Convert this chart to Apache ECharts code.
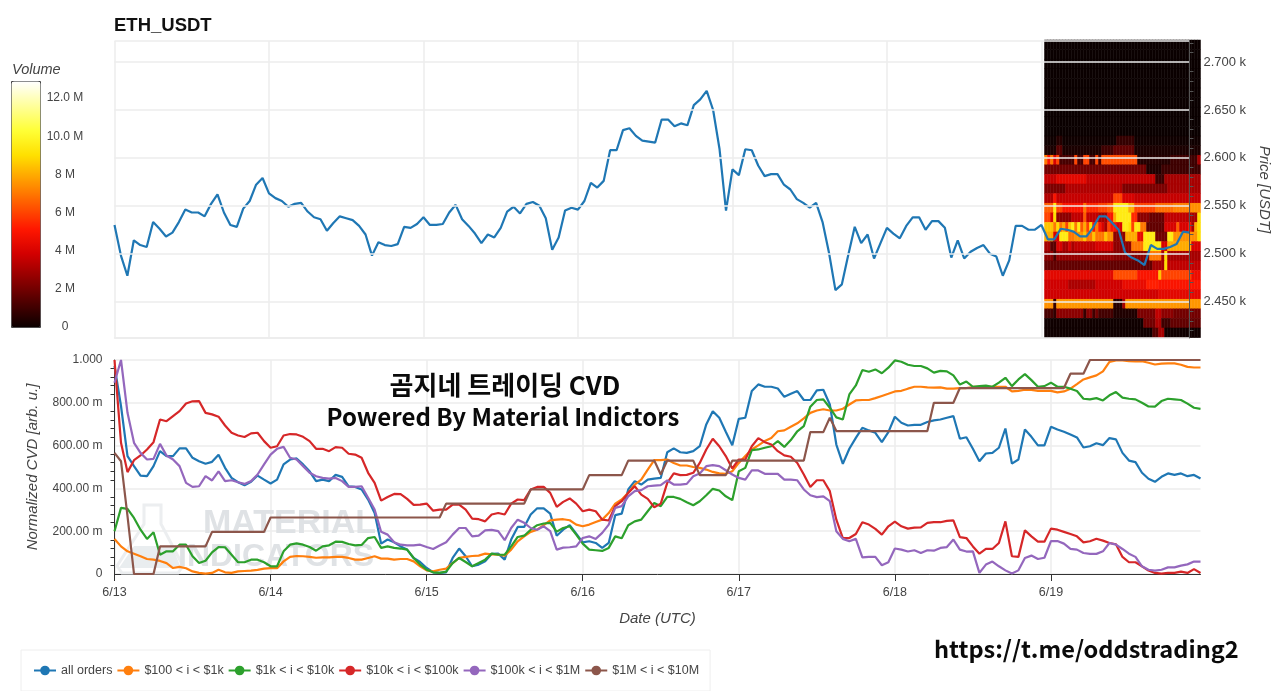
<!DOCTYPE html>
<html><head><meta charset="utf-8">
<style>html,body{margin:0;padding:0;background:#fff}#c{width:1280px;height:691px}</style>
<script src="https://cdn.jsdelivr.net/npm/echarts@6/dist/echarts.min.js"></script>
</head><body><div id="c"></div>
<script>
const dateTicks = ['6/13','6/14','6/15','6/16','6/17','6/18','6/19'];
const seriesNames = ['all orders','$100 < i < $1k','$1k < i < $10k','$10k < i < $100k','$100k < i < $1M','$1M < i < $10M'];
const volumeTicks = {0:'0',2:'2 M',4:'4 M',6:'6 M',8:'8 M',10:'10.0 M',12:'12.0 M'};

// hourly price [USDT]
const price = [2530,2498,2477,2514,2509,2507,2533,2526,2518,2522,2533,2546,2543,2543,2539,2552,2562,2543,2530,2528,2547,2555,2572,2579,
2563,2558,2555,2549,2552,2553,2544,2538,2536,2524,2532,2539,2537,2535,2529,2520,2498,2512,2509,2508,2510,2528,2527,2531,
2538,2530,2530,2531,2543,2551,2536,2529,2521,2511,2520,2517,2527,2544,2549,2542,2552,2554,2550,2537,2504,2517,2545,2548,
2546,2555,2574,2569,2576,2608,2608,2629,2631,2623,2618,2617,2616,2640,2640,2633,2636,2634,2655,2661,2670,2650,2609,2545,
2588,2582,2609,2608,2592,2581,2583,2583,2572,2567,2557,2553,2548,2553,2533,2501,2462,2468,2499,2528,2511,2520,2495,2511,
2527,2521,2516,2529,2538,2538,2525,2534,2534,2527,2496,2514,2495,2502,2506,2509,2500,2497,2477,2493,2529,2529,2525,2525,
2530,2515,2515,2526,2525,2523,2518,2518,2527,2539,2539,2532,2525,2501,2496,2493,2488,2509,2505,2505,2507,2510,2523,2522];

// normalized CVD, in thousandths
const cvdAll = [972,785,551,504,460,457,504,574,551,551,587,587,543,527,515,524,557,496,449,429,415,431,460,441,423,441,512,535,540,512,480,434,441,434,463,454,410,407,395,348,285,142,161,148,129,114,75,56,28,
8,5,8,75,119,83,36,44,59,94,95,67,161,220,220,278,307,307,282,179,207,228,189,148,153,145,122,145,275,282,395,434,418,441,446,449,569,587,569,566,574,597,699,761,730,665,602,725,
730,855,886,875,875,867,828,842,855,813,813,858,861,792,605,515,585,636,683,671,660,616,663,735,707,694,697,697,710,718,722,730,738,632,639,585,527,563,566,590,680,516,535,675,641,601,601,688,675,665,652,638,591,597,611,602,635,629,566,530,523,473,445,431,454,470,463,470,457,463,446];
const cvd100 = [164,129,106,95,83,70,67,61,51,28,33,27,12,5,2,5,20,8,5,12,14,16,19,25,27,27,59,80,84,83,80,76,78,78,80,80,75,67,67,75,83,72,72,67,70,70,59,36,17,
12,20,25,51,75,80,84,86,95,92,90,86,114,153,176,197,207,228,251,254,256,251,231,223,231,243,254,285,329,348,379,418,441,488,532,532,535,519,507,507,500,496,488,477,470,468,480,519,
551,582,601,621,636,667,671,688,704,727,753,764,770,764,764,772,792,811,813,813,822,832,842,853,856,866,875,875,872,871,872,866,866,869,869,874,875,875,875,875,875,853,856,861,860,856,856,856,849,853,866,887,909,919,928,947,991,998,998,995,994,994,987,979,983,984,984,978,968,965,965];
const cvd1k = [200,309,304,262,207,164,195,90,106,106,137,137,83,51,62,101,126,125,90,55,55,67,67,55,36,36,106,137,143,137,126,109,129,134,151,150,140,134,136,168,173,122,129,122,119,114,75,44,20,
8,5,11,51,75,56,36,51,67,95,90,90,129,173,179,207,228,236,239,198,215,223,184,142,114,111,108,122,176,167,228,246,254,293,332,317,360,360,351,335,321,340,368,398,390,363,345,480,
496,579,582,590,597,621,594,626,667,691,782,813,816,777,732,722,839,881,953,945,956,938,964,998,992,978,972,972,961,941,949,947,928,885,899,875,878,880,875,894,917,878,909,934,906,875,878,894,875,875,866,855,819,816,822,811,835,850,824,819,816,800,783,782,808,819,816,813,796,777,772];
const cvd10k = [1000,613,476,532,554,582,616,722,714,738,761,797,807,808,753,746,735,694,660,647,640,657,660,621,590,597,647,654,652,641,621,585,585,574,593,590,562,558,543,473,426,343,360,374,373,351,323,324,329,
296,301,301,324,324,301,259,256,246,278,285,278,329,348,345,395,407,407,379,314,337,353,329,293,301,293,254,250,317,340,379,410,371,351,312,329,426,470,462,463,473,519,582,632,597,551,493,535,
535,597,635,616,605,574,554,548,519,465,407,438,438,387,254,168,168,187,242,231,211,184,223,245,223,212,217,218,239,242,242,248,251,172,168,129,95,117,117,145,246,83,80,204,176,151,151,212,207,197,187,176,148,153,165,156,145,139,80,55,55,36,16,5,2,5,5,11,5,23,5];
const cvd100k = [894,1000,753,613,566,535,538,608,554,535,504,426,407,410,457,437,480,434,438,429,421,434,465,512,558,585,594,543,535,504,473,457,449,446,449,434,407,407,410,356,301,197,184,148,137,134,134,137,126,
117,133,148,184,215,215,176,179,204,206,200,158,215,254,239,215,207,223,200,114,123,125,129,168,176,164,192,231,309,317,363,387,392,410,413,415,437,418,418,421,457,470,504,509,504,485,465,449,
441,484,484,468,468,468,441,441,438,395,368,359,363,340,200,164,153,164,78,80,80,41,55,119,114,105,111,98,111,109,122,126,161,114,105,106,5,44,58,36,17,2,17,75,86,70,76,154,154,142,117,114,98,94,94,106,145,137,117,95,80,36,20,16,20,31,31,39,45,58,58];
const cvd1M = [566,527,270,0,0,0,0,129,129,129,129,129,129,129,129,197,197,197,197,197,197,197,197,197,
264,264,264,264,264,264,264,264,264,264,264,264,264,264,264,264,264,264,264,264,264,264,264,264,264,264,264,
329,329,329,329,329,329,329,329,329,329,329,329,329,395,395,395,395,395,395,395,395,395,462,462,462,462,462,462,
530,530,530,530,530,465,530,530,530,530,530,462,462,462,462,462,530,530,530,530,530,530,530,530,530,530,530,530,
663,663,663,730,668,668,668,668,668,668,668,668,668,668,668,668,668,668,668,800,800,800,800,
869,869,869,869,869,869,869,869,869,869,869,869,869,869,869,869,869,936,936,936,
1000,1000,1000,1000,1000,1000,1000,1000,1000,1000,1000,1000,1000,1000,1000,1000,1000,1000];
const cvdSeries = [cvdAll,cvd100,cvd1k,cvd10k,cvd100k,cvd1M];

// volume profile, top price bin first: runs of [columns, volume in M]
const heatRuns = [
[[52,0]],[[52,0]],[[52,0]],[[52,0]],[[52,0]],[[52,0]],[[52,0]],[[52,0]],[[52,0]],[[52,0]],
[[4,.1],[2,.5],[18,.1],[6,.8],[22,.1]],
[[4,.3],[2,1.5],[13,.3],[4,1],[7,1.7],[22,.3]],
[[1,7],[1,5],[1,7],[1,4],[1,6],[5,1.2],[1,6],[2,1.2],[2,6],[2,1.2],[1,6],[1,1.2],[12,6.2],[11,.5],[9,1],[1,3]],
[[34,2],[5,.4],[13,1]],
[[4,3.6],[10,4.3],[12,3.5],[11,3.5],[3,1],[12,3]],
[[7,2.2],[19,3.2],[15,2.2],[11,3]],
[[3,3.2],[1,5],[19,3.6],[3,6],[4,4],[22,3.6]],
[[3,6.5],[1,9.5],[2,6],[7,5],[1,7],[4,5.5],[3,6],[2,6.5],[5,9.5],[2,8],[7,6],[6,6.8],[6,7.2],[1,7.5],[2,7.5]],
[[2,6],[1,4],[1,9],[5,2.5],[4,3.5],[1,6.5],[4,3.5],[3,3],[2,5],[1,8],[5,9.5],[2,5.5],[4,2.5],[5,1.8],[8,3.5],[3,3],[1,9]],
[[3,8.5],[1,7],[1,9],[1,7],[1,8],[1,6],[1,8.5],[1,9.5],[1,7],[1,9.5],[1,6.5],[1,8],[1,6],[1,9],[1,5],[1,7],[1,5],[1,4],[1,3],[1,6],[2,5],[2,4],[2,9.5],[1,9],[1,6],[2,9.5],[2,7],[6,1.7],[4,4],[1,6.5],[3,4],[1,5],[1,3],[1,8],[1,9]],
[[3,8],[2,4],[3,9.5],[2,7],[3,7.5],[1,8.5],[2,7],[1,8.5],[3,7],[1,8.5],[2,7.5],[4,2.5],[4,8],[2,4.5],[4,9.5],[4,2],[2,9.5],[8,7.5],[1,9]],
[[2,3],[2,1.5],[2,4],[2,3],[1,4],[1,3],[7,3.5],[6,4],[6,2.5],[4,7],[6,9.5],[2,4],[8,8],[3,4]],
[[3,2.5],[1,1.2],[19,2.7],[7,2.4],[5,2.4],[4,7],[1,3],[1,9],[11,3]],
[[36,1.7],[3,3],[1,3],[1,9],[11,3.5]],
[[23,4.3],[8,6.2],[7,5],[1,8.5],[10,6],[3,4.6]],
[[8,3.8],[9,3.1],[9,3.8],[8,4.5],[4,5.3],[14,5]],
[[38,3.8],[14,4.3]],
[[3,7.5],[1,.8],[19,7.6],[3,.5],[1,3],[25,7.6]],
[[3,1.2],[1,.7],[9,2.5],[1,.8],[2,2.4],[1,1],[1,2],[5,1.1],[8,.4],[6,2.2],[2,3.5],[4,2.5],[9,2]],
[[33,.1],[4,2],[2,3.2],[3,1],[10,1.7]],
[[36,.1],[2,1.4],[2,3],[12,.1]]
];

const hours = price.map((_, i) => i % 24 === 0 ? dateTicks[i / 24] : 'h' + i);
const isDay = i => i % 24 === 0;
const heatData = [];
heatRuns.forEach((runs, r) => {
  let c = 0;
  runs.forEach(([n, v]) => { for (let k = 0; k < n; k++) heatData.push([c++, heatRuns.length - 1 - r, v]); });
});
const heatCols = Array.from({length: 52}, (_, i) => i);
const heatBins = heatRuns.map((_, i) => i);

const colors = ['#1f77b4','#ff7f0e','#2ca02c','#d62728','#9467bd','#8c564b'];
const hot = ['#0a0000','#4d0000','#900000','#d30000','#ff1700','#ff5a00','#ff9d00','#ffe000','#ffff36','#ffff9a','#ffffff'];
const font = '"Liberation Sans", Arial, sans-serif';
const gridC = '#ececec', txt = '#444';

const chart = echarts.init(document.getElementById('c'), null, {renderer: 'canvas'});
chart.setOption({
  animation: false,
  backgroundColor: '#fff',
  textStyle: {fontFamily: font},
  title: {text: 'ETH_USDT', left: 114, top: 16, padding: 0, textStyle: {fontSize: 18.5, fontWeight: 'bold', color: '#111', fontFamily: font}},
  grid: [
    {left: 114.5, width: 1086, top: 41, height: 297},
    {left: 114.5, width: 1086, top: 360, height: 214},
    {left: 11, width: 29, top: 81, height: 246},
    {left: 1044.5, width: 156, top: 40, height: 297.6}
  ],
  xAxis: [
    {gridIndex: 0, type: 'category', boundaryGap: false, data: hours,
     axisLine: {show: true, lineStyle: {color: gridC, width: 1.5}}, axisTick: {show: false}, axisLabel: {show: false},
     splitLine: {show: true, interval: isDay, lineStyle: {color: gridC, width: 1.5}}},
    {gridIndex: 1, type: 'category', boundaryGap: false, data: hours,
     name: 'Date (UTC)', nameLocation: 'middle', nameGap: 37,
     nameTextStyle: {fontStyle: 'italic', fontSize: 15, color: txt},
     axisLine: {lineStyle: {color: '#333'}}, axisTick: {interval: isDay, length: 7, lineStyle: {color: '#333'}},
     axisLabel: {interval: isDay, color: txt, fontSize: 12.5, margin: 12},
     splitLine: {show: true, interval: isDay, lineStyle: {color: gridC, width: 1.5}}},
    {gridIndex: 2, type: 'category', show: false, data: ['']},
    {gridIndex: 3, type: 'category', show: false, data: heatCols}
  ],
  yAxis: [
    {gridIndex: 0, type: 'value', position: 'right', min: 2412, max: 2722, splitNumber: 6, z: 5,
     name: 'Price [USDT]', nameLocation: 'middle', nameRotate: -90, nameGap: 66,
     nameTextStyle: {fontStyle: 'italic', fontSize: 15, color: txt},
     axisLine: {show: true, onZero: false, lineStyle: {color: '#555'}},
     axisTick: {length: 7, lineStyle: {color: '#555'}},
     minorTick: {show: true, splitNumber: 5, length: 4, lineStyle: {color: '#555'}},
     axisLabel: {color: txt, fontSize: 13, margin: 14, showMinLabel: false, showMaxLabel: false,
       formatter: v => (v / 1000).toFixed(3) + ' k'},
     splitLine: {lineStyle: {color: gridC, width: 1.5}}},
    {gridIndex: 1, type: 'value', min: 0, max: 1000, interval: 200,
     name: 'Normalized CVD [arb. u.]', nameLocation: 'middle', nameGap: 74,
     nameTextStyle: {fontStyle: 'italic', fontSize: 15, color: txt},
     axisLine: {show: true, lineStyle: {color: '#333'}},
     axisTick: {length: 7, lineStyle: {color: '#333'}},
     minorTick: {show: true, splitNumber: 5, length: 4, lineStyle: {color: '#333'}},
     axisLabel: {color: txt, fontSize: 12, margin: 12,
       formatter: v => v === 1000 ? '1.000' : v === 0 ? '0' : v.toFixed(2) + ' m'},
     splitLine: {lineStyle: {color: gridC, width: 1.5}}},
    {gridIndex: 2, type: 'value', position: 'right', min: 0, max: 12.9, interval: 2, z: 10,
     axisLine: {show: false}, splitLine: {show: false},
     axisTick: {inside: true, length: 4, lineStyle: {color: '#333'}},
     axisLabel: {color: txt, fontSize: 12, margin: 25, align: 'center', formatter: v => volumeTicks[v] ?? ''}},
    {gridIndex: 3, type: 'category', show: false, data: heatBins}
  ],
  visualMap: {
    type: 'continuous', seriesIndex: 0, min: 0, max: 12.9, show: true, calculable: false, hoverLink: false,
    left: 11, top: 81, itemWidth: 29, itemHeight: 246, padding: 0, text: ['', ''],
    borderColor: '#444', borderWidth: 1, inRange: {color: hot}
  },
  legend: {
    left: 21, top: 650, padding: [14, 11, 14, 12], itemGap: 4, itemWidth: 22, itemHeight: 12,
    borderColor: '#eee', borderWidth: 1, data: seriesNames,
    textStyle: {color: txt, fontSize: 12.5}
  },
  series: [
    {type: 'heatmap', xAxisIndex: 3, yAxisIndex: 3, data: heatData, silent: true, z: 1, progressive: 0,
     emphasis: {disabled: true}, itemStyle: {borderWidth: 0}},
    {type: 'line', name: 'price', xAxisIndex: 0, yAxisIndex: 0, data: price, symbol: 'none', z: 3,
     lineStyle: {color: colors[0], width: 2.2}, itemStyle: {color: colors[0]}, silent: true},
    ...cvdSeries.map((d, i) => ({type: 'line', name: seriesNames[i], xAxisIndex: 1, yAxisIndex: 1, data: d, symbol: 'none',
      z: 3, clip: true, silent: true, lineStyle: {color: colors[i], width: 2.2}, itemStyle: {color: colors[i]}}))
  ],
  graphic: {elements: [
    {type: 'text', z: 100, style: {text: 'Volume', x: 12, y: 62, font: 'italic 14.5px ' + font, fill: txt}},
    {type: 'polygon', z: 1, silent: true, shape: {points: [[144,505],[161,505],[161,524],[183,566],[178,573],[122,573],[117,566],[144,524]]},
     style: {fill: 'rgba(0,0,0,0)', stroke: '#eceef0', lineWidth: 3}},
    {type: 'polygon', z: 1, silent: true, shape: {points: [[134,546],[172,546],[181,568],[119,568]]}, style: {fill: '#e9edef'}},
    {type: 'text', z: 1, silent: true, style: {text: 'MATERIAL', x: 203, y: 507, font: 'bold 34px "Liberation Sans Narrow", ' + font, fill: '#dfe2e5'}},
    {type: 'text', z: 1, silent: true, style: {text: 'INDICATORS', x: 178, y: 541, font: 'bold 32px ' + font, fill: '#dfe2e5'}},
    {type: 'text', z: 100, style: {text: '곰지네 트레이딩 CVD', x: 505, y: 385, align: 'center', verticalAlign: 'middle', font: 'bold 26px "Noto Sans CJK KR"', fill: '#0a0a0a'}},
    {type: 'text', z: 100, style: {text: 'Powered By Material Indictors', x: 503, y: 417, align: 'center', verticalAlign: 'middle', font: 'bold 24px "Noto Sans CJK KR"', fill: '#0a0a0a'}},
    {type: 'text', z: 100, style: {text: 'https://t.me/oddstrading2', x: 934, y: 649, verticalAlign: 'middle', font: 'bold 23.6px "Noto Sans CJK KR"', fill: '#0a0a0a'}}
  ]}
});
</script></body></html>
